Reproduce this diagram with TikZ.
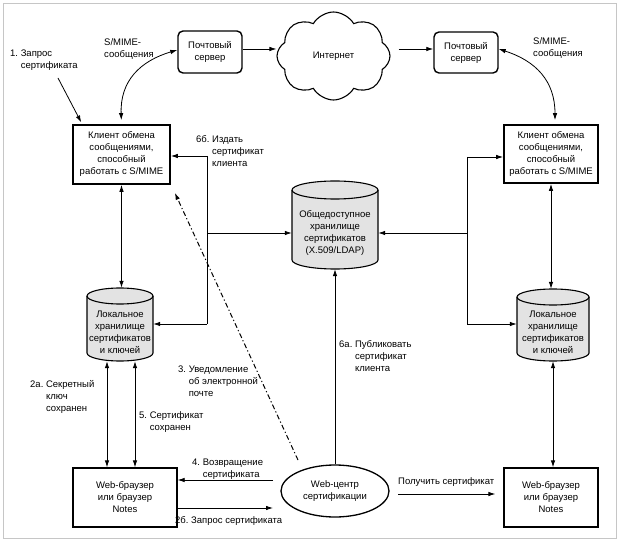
\documentclass[tikz,border=0pt]{standalone}
\usepackage{fontspec}
\setmainfont{Liberation Sans}
\usetikzlibrary{arrows.meta,shapes.geometric,shapes.symbols,calc}
\tikzset{
  txtfont/.style={font=\fontsize{9.5}{12}\selectfont},
  box/.style={draw, line width=1.3pt, align=center, inner sep=0pt, txtfont},
  thickbox/.style={box, line width=1.7pt},
  mailbox/.style={box, rounded corners=5pt, line width=1.4pt},
  cylbody/.style={fill=gray!22, draw, line width=1.1pt},
  cylline/.style={draw, line width=1.1pt},
  cylnode/.style={inner sep=0pt, draw=none},
  cyltext/.style={inner sep=0pt, align=center, txtfont},
  lbl/.style={anchor=base west, inner sep=0pt, align=left, txtfont},
  arr/.style={-{Latex[length=7pt,width=4.5pt]}, line width=0.8pt},
  arrr/.style={{Latex[length=7pt,width=4.5pt]}-{Latex[length=7pt,width=4.5pt]}, line width=0.8pt},
  plain/.style={line width=0.8pt},
  dashdotline/.style={line width=1pt, dash pattern=on 5pt off 2.5pt on 1.2pt off 2.5pt},
}
\newcommand\mycyl[8]{%
  \path[cylbody] (#2-#4,#3+#5-#6) -- (#2-#4,#3-#5+#6)
     arc[start angle=180,end angle=360,x radius=#4,y radius=#6]
     -- (#2+#4,#3+#5-#6)
     arc[start angle=0,end angle=180,x radius=#4,y radius=#6] -- cycle;
  \draw[cylline] (#2-#4,#3+#5-#6) arc[start angle=180,end angle=360,x radius=#4,y radius=#6];
  \node[cylnode, minimum width=2*#4, minimum height=2*#5] (#1) at (#2,#3) {};
  \node[cyltext] (#1-t) at (#2,#3-#7) {#8};
}
\begin{document}
\begin{tikzpicture}[x=1pt,y=1pt]
\useasboundingbox (0,0) rectangle (620,541);
\draw[gray!45, line width=0.8pt] (3,3) rectangle (616,538);

% nodes
\node[mailbox, minimum width=64, minimum height=42] (ms1) at (210,489) {Почтовый\\сервер};
\node[mailbox, minimum width=64, minimum height=41] (ms2) at (466,488.5) {Почтовый\\сервер};
\node[cloud, draw, line width=1.1pt, cloud puffs=8, cloud puff arc=120, aspect=1.3,
      minimum width=113, minimum height=88, inner sep=0pt, txtfont] (net) at (333.5,485) {Интернет};
\node[thickbox, minimum width=97, minimum height=59] (client1) at (121.5,386.5)
  {Клиент обмена\\сообщениями,\\способный\\работать с S/MIME};
\node[thickbox, minimum width=94, minimum height=58] (client2) at (551,387)
  {Клиент обмена\\сообщениями,\\способный\\работать с S/MIME};
\mycyl{pub}{335}{316}{43}{44}{9}{8}{Общедоступное\\хранилище\\сертификатов\\(X.509/LDAP)}
\mycyl{loc1}{120}{216.5}{33}{36.5}{8}{7.5}{Локальное\\хранилище\\сертификатов\\и ключей}
\mycyl{loc2}{553}{216}{36}{36}{8}{7.5}{Локальное\\хранилище\\сертификатов\\и ключей}
\node[box, minimum width=104, minimum height=59] (web1) at (125,43.5) {Web-браузер\\или браузер\\Notes};
\node[box, minimum width=94, minimum height=59] (web2) at (551,43.5) {Web-браузер\\или браузер\\Notes};
\node[ellipse, draw, line width=1.3pt, minimum width=108, minimum height=52, inner sep=0pt, align=center, txtfont]
  (ca) at (335,50) {Web-центр\\сертификации};

% coordinates
\coordinate (q1) at (58,463);
\coordinate (b1t) at (207,385);
\coordinate (b1m) at (207,308);
\coordinate (b1b) at (207,217);
\coordinate (b2t) at (467,384);
\coordinate (b2m) at (467,308);
\coordinate (b2b) at (467,217);
\coordinate (d1) at (298,81);
\coordinate (r4) at (273,61);
\coordinate (r2b) at (273,33);
\coordinate (rget) at (398,47);

% top connectors
\draw[arr] ([yshift=3pt]ms1.east) -- ([yshift=3pt]ms1.east -| net.west);
\draw[arr, shorten <=8pt] ([yshift=3.5pt]ms2.west -| net.east) -- ([yshift=3.5pt]ms2.west);
\draw[arrr, shorten >=4pt] ([yshift=2pt]ms1.west) .. controls (140,480) and (120,460) .. (client1.north);
\draw[arrr, shorten >=4pt] ([yshift=3.5pt]ms2.east) .. controls (536,480) and (555,460) .. ([xshift=4pt]client2.north);
\draw[arr, shorten >=2pt] (q1) -- ([xshift=10pt]client1.north west);

% vertical links
\draw[arrr] (client1.south) -- (client1.south |- loc1.north);
\draw[arrr] (client2.south) -- (client2.south |- loc2.north);
\draw[arrr] ([xshift=-13pt]loc1.south) -- ([xshift=-13pt]loc1.south |- web1.north);
\draw[arrr] ([xshift=15pt]loc1.south) -- ([xshift=15pt]loc1.south |- web1.north);
\draw[arrr] (loc2.south) -- (loc2.south |- web2.north);

% buses
\draw[plain] (b1t) -- (b1b);
\draw[arr] (b1t) -- (b1t -| client1.east);
\draw[arr] (b1m) -- (b1m -| pub.west);
\draw[arr] (b1b) -- (b1b -| loc1.east);
\draw[plain] (b2t) -- (b2b);
\draw[arr] (b2t) -- (b2t -| client2.west);
\draw[arr] (b2m) -- (b2m -| pub.east);
\draw[arr] (b2b) -- (b2b -| loc2.west);

% CA links
\draw[arr] (ca.north) -- (ca.north |- pub.south);
\draw[arr, dashdotline] (d1) -- ([shift={(4pt,-8pt)}]client1.south east);
\draw[arr] (r4) -- (r4 -| web1.east);
\draw[arr] (r2b -| web1.east) -- (r2b);
\draw[arr, shorten >=8pt] (rget) -- (rget -| web2.west);

% labels (base anchor = baseline of last line)
\node[lbl] (ls1) at (104,483) {S/MIME-\\сообщения};
\node[lbl] (ls2) at (533,484) {S/MIME-\\сообщения};
\node[lbl] (l1) at (10,472) {1.~Запрос\\\phantom{1.~}сертификата};
\node[lbl] (l6b) at (196,374) {6б.~Издать\\\phantom{6б.~}сертификат\\\phantom{6б.~}клиента};
\node[lbl] (l2a) at (30,130) {2а.~Секретный\\\phantom{2а.~}ключ\\\phantom{2а.~}сохранен};
\node[lbl] (l5) at (139,111) {5.~Сертификат\\\phantom{5.~}сохранен};
\node[lbl] (l3) at (178,145) {3.~Уведомление\\\phantom{3.~}об электронной\\\phantom{3.~}почте};
\node[lbl] (l6a) at (339,170) {6а.~Публиковать\\\phantom{6а.~}сертификат\\\phantom{6а.~}клиента};
\node[lbl] (l4) at (192,64) {4.~Возвращение\\\phantom{4.~}сертификата};
\node[lbl] (l2b) at (175,18) {2б.~Запрос сертификата};
\node[lbl] (lget) at (398,57) {Получить сертификат};
\end{tikzpicture}
\end{document}
